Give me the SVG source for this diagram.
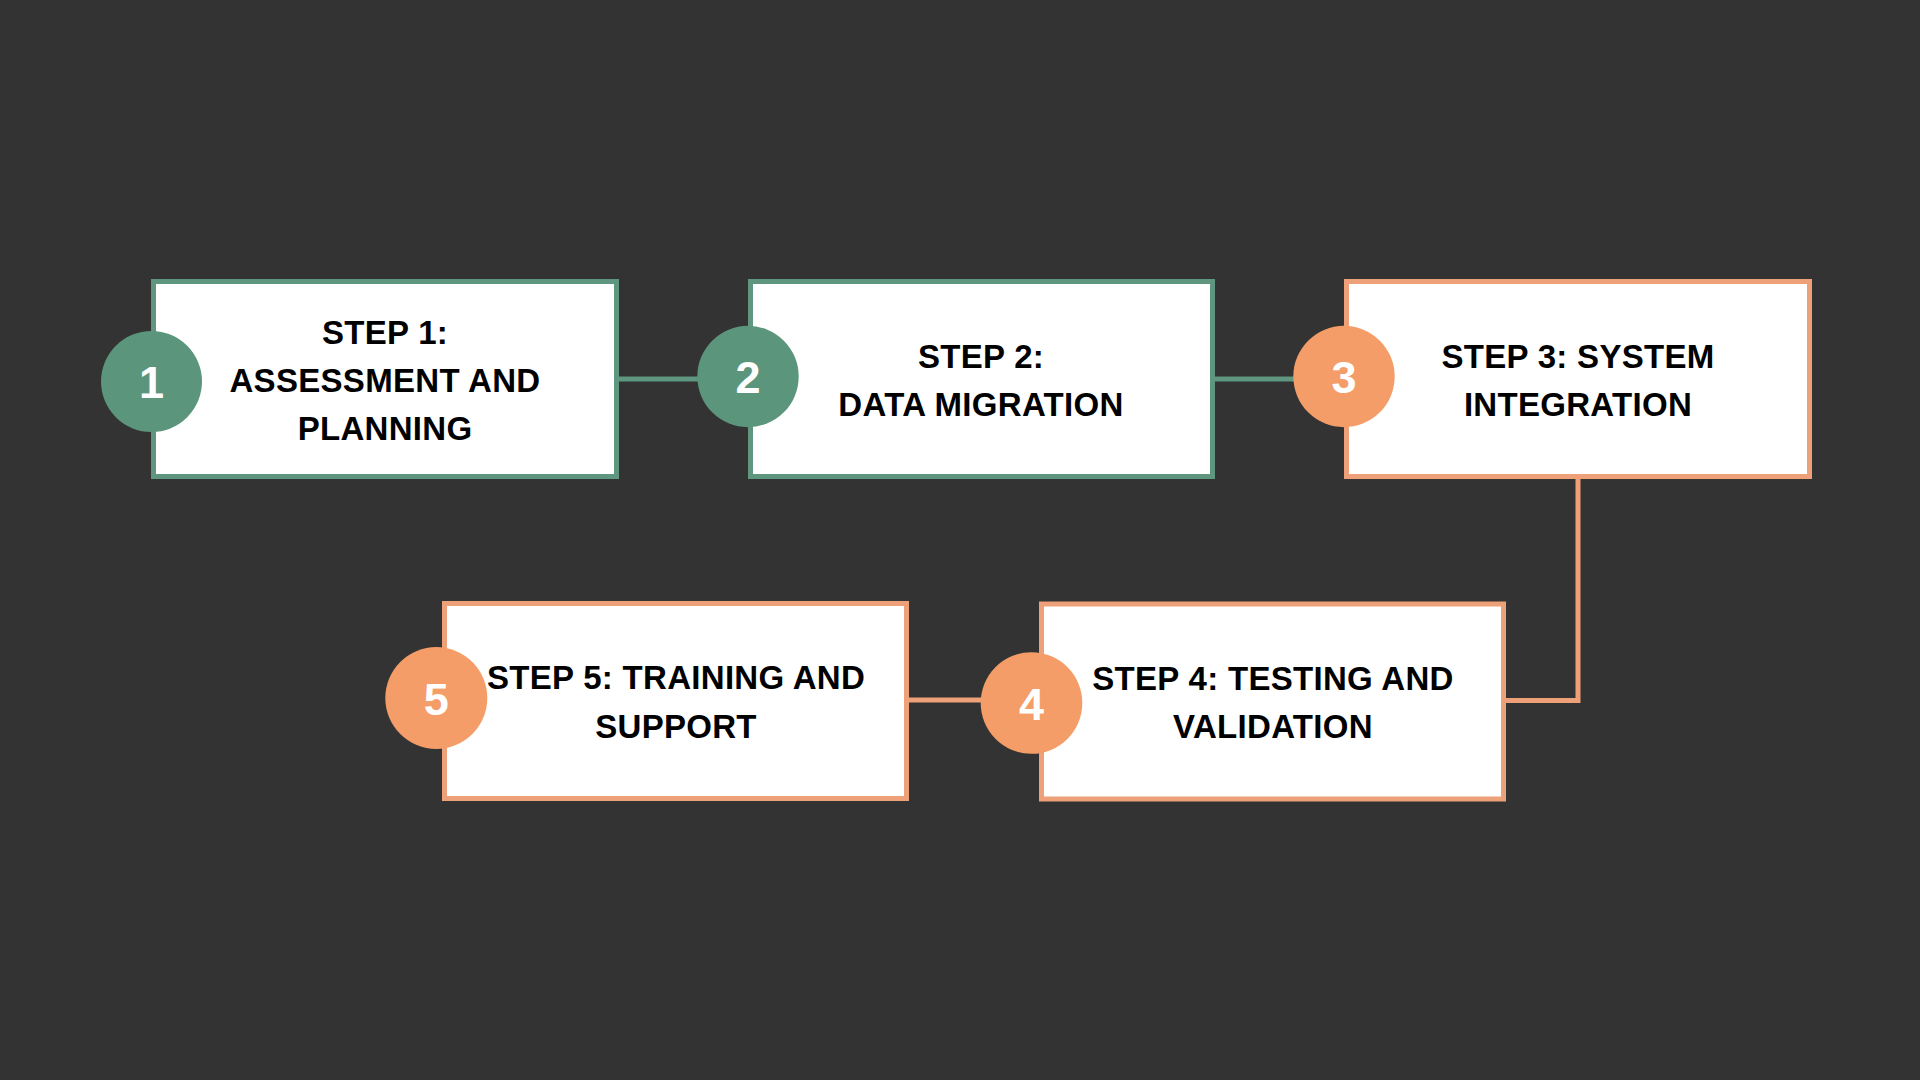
<svg xmlns="http://www.w3.org/2000/svg" width="1920" height="1080" viewBox="0 0 1920 1080">
  <style>
    .box { fill: #ffffff; stroke-width: 5; }
    .g { stroke: #5E9680; }
    .o { stroke: #EEA078; }
    .cg { fill: #5B957C; }
    .co { fill: #F49D68; }
    .lbl { font-family: "Liberation Sans", Arial, sans-serif; font-weight: bold; font-size: 33px; letter-spacing: 0.3px; fill: #000000; text-anchor: middle; }
    .num { font-family: "Liberation Sans", Arial, sans-serif; font-weight: bold; font-size: 45px; fill: #ffffff; text-anchor: middle; }
    .conn { fill: none; stroke-width: 5; }
  </style>
  <rect x="0" y="0" width="1920" height="1080" fill="#333333"/>

  <g id="connectors">
    <line class="conn g" x1="617" y1="379" x2="700" y2="379"/>
    <line class="conn g" x1="1213" y1="379" x2="1297" y2="379"/>
    <polyline class="conn o" points="1578,477 1578,700.5 1504,700.5"/>
    <line class="conn o" x1="907" y1="700" x2="984" y2="700"/>
  </g>

  <g id="step1">
    <rect class="box g" x="153.5" y="281.5" width="463" height="195"/>
    <text class="lbl" x="385" y="344">STEP 1:</text>
    <text class="lbl" x="385" y="392">ASSESSMENT AND</text>
    <text class="lbl" x="385" y="440">PLANNING</text>
    <circle class="cg" cx="151.5" cy="381.5" r="50.5"/>
    <text class="num" x="151.5" y="398">1</text>
  </g>

  <g id="step2">
    <rect class="box g" x="750.5" y="281.5" width="462" height="195"/>
    <text class="lbl" x="981" y="367.5">STEP 2:</text>
    <text class="lbl" x="981" y="416">DATA MIGRATION</text>
    <circle class="cg" cx="748" cy="376.5" r="50.7"/>
    <text class="num" x="748" y="393">2</text>
  </g>

  <g id="step3">
    <rect class="box o" x="1346.5" y="281.5" width="463" height="195"/>
    <text class="lbl" x="1578" y="367.5">STEP 3: SYSTEM</text>
    <text class="lbl" x="1578" y="416">INTEGRATION</text>
    <circle class="co" cx="1344" cy="376.5" r="50.7"/>
    <text class="num" x="1344" y="393">3</text>
  </g>

  <g id="step4">
    <rect class="box o" x="1041.5" y="604" width="462" height="195"/>
    <text class="lbl" x="1273" y="689.5">STEP 4: TESTING AND</text>
    <text class="lbl" x="1273" y="738">VALIDATION</text>
    <circle class="co" cx="1031.5" cy="703" r="50.8"/>
    <text class="num" x="1031.5" y="719.5">4</text>
  </g>

  <g id="step5">
    <rect class="box o" x="444.5" y="603.5" width="462" height="195"/>
    <text class="lbl" x="676" y="689">STEP 5: TRAINING AND</text>
    <text class="lbl" x="676" y="737.5">SUPPORT</text>
    <circle class="co" cx="436.3" cy="698" r="51"/>
    <text class="num" x="436.3" y="714.5">5</text>
  </g>
</svg>
